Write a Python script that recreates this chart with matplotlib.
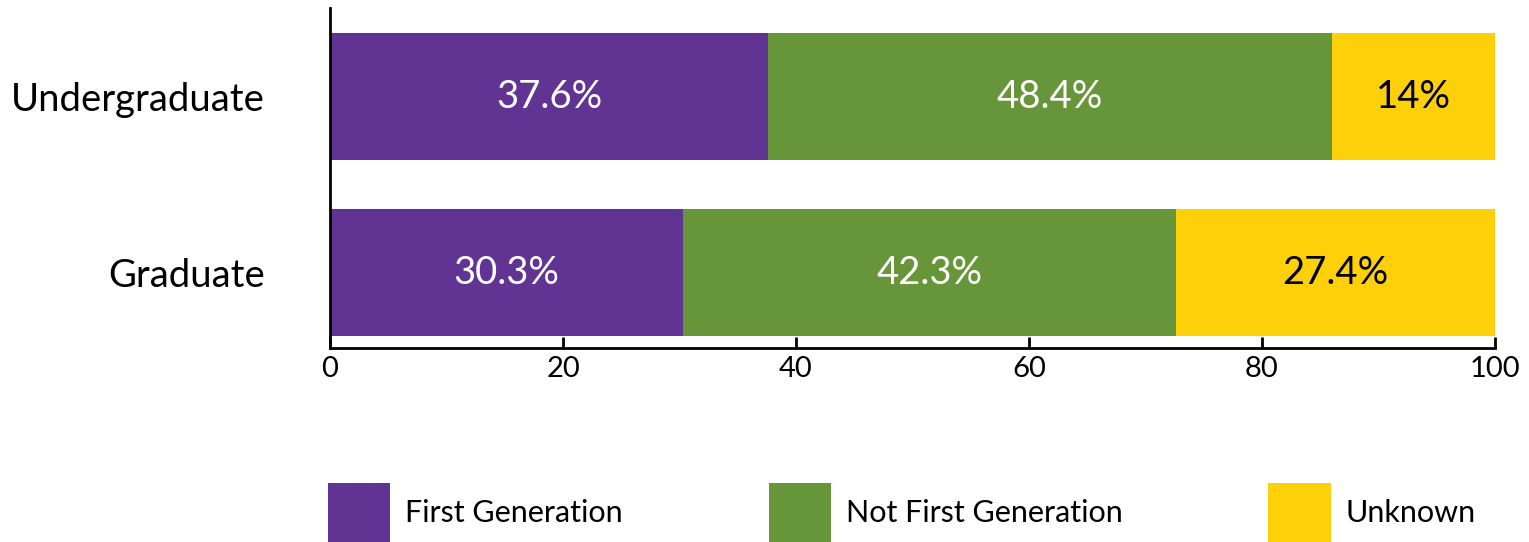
import matplotlib
matplotlib.use("Agg")
import matplotlib.pyplot as plt

plt.rcParams['font.family'] = ['Lato', 'DejaVu Sans']

# data
groups = ["Graduate", "Undergraduate"]
first_gen = [30.3, 37.6]
not_first_gen = [42.3, 48.4]
unknown = [27.4, 14.0]
series_names = ["First Generation", "Not First Generation", "Unknown"]
colors = ["#613393", "#67963a", "#fdd00a"]
text_colors = ["white", "white", "black"]

fig = plt.figure(figsize=(15.29, 5.42), dpi=100)
ax = fig.add_axes([330 / 1529, 1 - 348 / 542, 1165 / 1529, 340 / 542])

ypos = list(range(len(groups)))
left = [0] * len(groups)
for vals, name, c, tc in zip([first_gen, not_first_gen, unknown], series_names, colors, text_colors):
    bars = ax.barh(ypos, vals, left=left, height=0.72, color=c, label=name)
    ax.bar_label(bars, labels=[f"{v:g}%" for v in vals], label_type="center",
                 color=tc, fontsize=27.5)
    left = [l + v for l, v in zip(left, vals)]

ax.set_xlim(0, 100)
ax.set_ylim(-0.429, 1.503)
ax.set_yticks(ypos)
ax.set_yticklabels(groups, fontsize=27.5)
ax.set_xticks([0, 20, 40, 60, 80, 100])
ax.tick_params(axis="y", length=0, pad=47)
ax.tick_params(axis="x", direction="in", length=8, width=2, labelsize=21, pad=6)
for s in ["top", "right"]:
    ax.spines[s].set_visible(False)
for s in ["left", "bottom"]:
    ax.spines[s].set_linewidth(2)

fig.legend(loc="lower left", bbox_to_anchor=(328 / 1529, 0.0), ncol=3, frameon=False,
           fontsize=22, handlelength=2.03, handleheight=2.6, handletextpad=0.5,
           columnspacing=4.77, borderpad=0, borderaxespad=0)

fig.savefig("out.png", dpi=100)
